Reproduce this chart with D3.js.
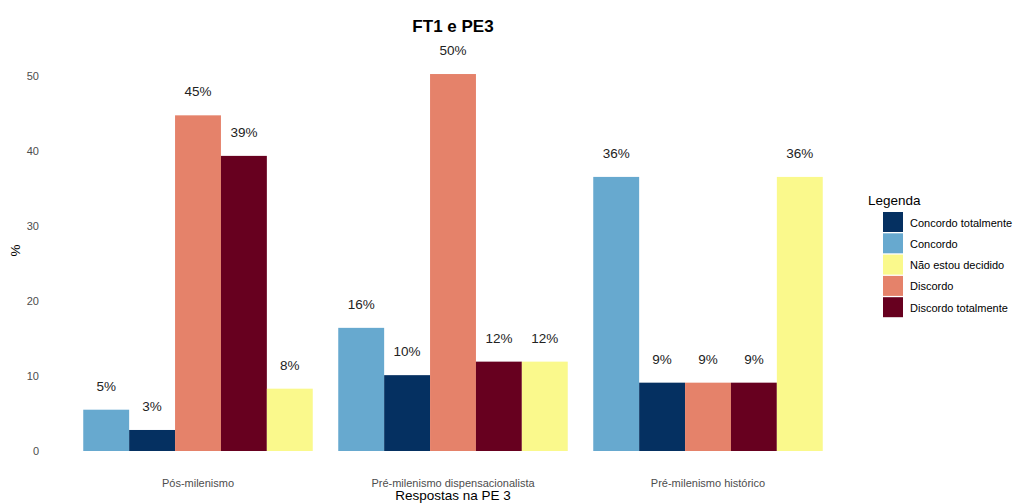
<!DOCTYPE html>
<html>
<head>
<meta charset="utf-8">
<script src="https://cdn.jsdelivr.net/npm/d3@7"></script>
<style>
  body { margin: 0; background: #fff; font-family: "Liberation Sans", Arial, sans-serif; }
  .tick text { fill: #4d4d4d; font-size: 11px; }
</style>
</head>
<body>
<div id="chart"></div>
<script>
// Data
var groups = ["Pós-milenismo", "Pré-milenismo dispensacionalista", "Pré-milenismo histórico"];
var answers = ["Concordo", "Concordo totalmente", "Discordo", "Discordo totalmente", "Não estou decidido"];
var legendOrder = ["Concordo totalmente", "Concordo", "Não estou decidido", "Discordo", "Discordo totalmente"];
var colors = ["#67a9cf", "#053061", "#e5826a", "#67001f", "#faf98c"];

var posValues = [5.5, 2.8, 44.7, 39.3, 8.3];
var disValues = [16.4, 10.1, 50.2, 11.9, 11.9];
var hisValues = [36.5, 9.1, 9.1, 9.1, 36.5];

var posLabels = ["5%", "3%", "45%", "39%", "8%"];
var disLabels = ["16%", "10%", "50%", "12%", "12%"];
var hisLabels = ["36%", "9%", "9%", "9%", "36%"];

var yTicks = [0, 10, 20, 30, 40, 50];

var rows = [];
[posValues, disValues, hisValues].forEach(function(vals, gi) {
  var labs = [posLabels, disLabels, hisLabels][gi];
  vals.forEach(function(v, ai) {
    rows.push({ group: groups[gi], answer: answers[ai], value: v, label: labs[ai] });
  });
});

var svgWidth = 1016;
var svgHeight = 504;
var margin = { top: 50, right: 155, bottom: 53, left: 45 };
var chartWidth = svgWidth - margin.left - margin.right;
var chartHeight = svgHeight - margin.top - margin.bottom;

var svg = d3.select("#chart").append("svg")
  .attr("width", svgWidth)
  .attr("height", svgHeight);

var chartGroup = svg.append("g")
  .attr("transform", `translate(${margin.left}, ${margin.top})`);

// Scales
var xScale = d3.scaleBand()
  .domain(groups)
  .range([0, chartWidth])
  .paddingInner(0.1)
  .paddingOuter(0.15);

var xInner = d3.scaleBand()
  .domain(answers)
  .range([0, xScale.bandwidth()]);

var yScale = d3.scaleLinear()
  .domain([0, 53.4])
  .range([chartHeight, 0]);

var color = d3.scaleOrdinal().domain(answers).range(colors);

// Axes
var leftAxis = d3.axisLeft(yScale).tickValues(yTicks).tickSize(0).tickPadding(6);
var yAxisG = chartGroup.append("g").call(leftAxis);
yAxisG.select(".domain").remove();
yAxisG.selectAll("text").style("font-size", "11px").attr("fill", "#4d4d4d");

var bottomAxis = d3.axisBottom(xScale).tickSize(0).tickPadding(28);
var xAxisG = chartGroup.append("g")
  .attr("transform", `translate(0, ${chartHeight})`)
  .call(bottomAxis);
xAxisG.select(".domain").remove();
xAxisG.selectAll("text").style("font-size", "11px").attr("fill", "#4d4d4d");

// Bars
chartGroup.selectAll("rect.bar")
  .data(rows)
  .enter()
  .append("rect")
  .attr("class", "bar")
  .attr("x", d => xScale(d.group) + xInner(d.answer))
  .attr("y", d => yScale(d.value))
  .attr("width", xInner.bandwidth())
  .attr("height", d => chartHeight - yScale(d.value))
  .attr("fill", d => color(d.answer));

// Value labels
chartGroup.selectAll("text.vlabel")
  .data(rows)
  .enter()
  .append("text")
  .attr("class", "vlabel")
  .attr("x", d => xScale(d.group) + xInner(d.answer) + xInner.bandwidth() / 2)
  .attr("y", d => yScale(d.value) - 19)
  .attr("text-anchor", "middle")
  .style("font-size", "13.5px")
  .attr("fill", "#222")
  .text(d => d.label);

// Title
svg.append("text")
  .attr("x", margin.left + chartWidth / 2)
  .attr("y", 32)
  .attr("text-anchor", "middle")
  .style("font-size", "17px")
  .style("font-weight", "bold")
  .attr("fill", "#000")
  .text("FT1 e PE3");

// Axis titles
svg.append("text")
  .attr("x", margin.left + chartWidth / 2)
  .attr("y", 500)
  .attr("text-anchor", "middle")
  .style("font-size", "13.5px")
  .attr("fill", "#000")
  .text("Respostas na PE 3");

svg.append("text")
  .attr("transform", `translate(20, ${margin.top + chartHeight / 2}) rotate(-90)`)
  .attr("text-anchor", "middle")
  .style("font-size", "13.5px")
  .attr("fill", "#000")
  .text("%");

// Legend
var legend = svg.append("g").attr("transform", "translate(868, 190)");
legend.append("text")
  .attr("x", 0)
  .attr("y", 15)
  .style("font-size", "13.5px")
  .attr("fill", "#000")
  .text("Legenda");

var items = legend.selectAll("g.item")
  .data(legendOrder)
  .enter()
  .append("g")
  .attr("class", "item")
  .attr("transform", (d, i) => `translate(15, ${22 + i * 21.3})`);

items.append("rect")
  .attr("width", 20)
  .attr("height", 20)
  .attr("fill", d => color(d));

items.append("text")
  .attr("x", 27)
  .attr("y", 14.5)
  .style("font-size", "11px")
  .attr("fill", "#000")
  .text(d => d);
</script>
</body>
</html>
